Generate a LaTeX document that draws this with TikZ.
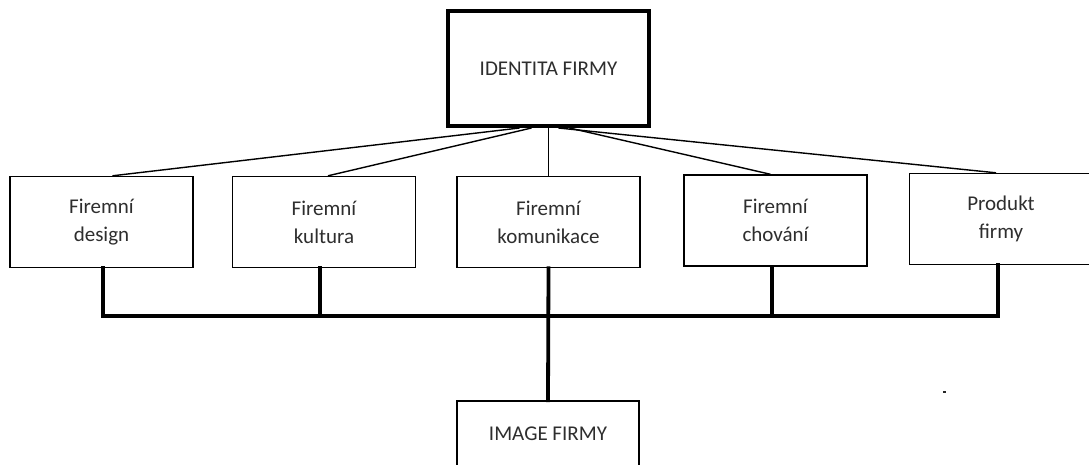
\documentclass[tikz,border=0pt]{standalone}
\usepackage{fontspec}
\setmainfont{Carlito}
\usetikzlibrary{calc}
\begin{document}
\begin{tikzpicture}[x=1pt,y=-1pt,
  txt/.style={text=black!82,font=\fontsize{21}{28}\selectfont,align=center},
  boxa/.style={draw,line width=1.4pt,txt,minimum width=183pt,minimum height=91pt,inner sep=0pt},
  boxtop/.style={draw,line width=4pt,txt,minimum width=201pt,minimum height=115pt,inner sep=0pt},
  thin/.style={line width=1.4pt},
  bus/.style={line width=3.8pt,line join=miter,line cap=rect}]
\clip (0,0) rectangle (1089,465);
\fill[white] (0,0) rectangle (1089,465);
\node[boxtop] (top) at (548.5,68.5) {IDENTITA FIRMY};
\node[boxa] (design) at (101.5,222) {Firemní\\design};
\node[boxa] (kultura) at (324,222) {Firemní\\kultura};
\node[boxa] (komunikace) at (548.5,222) {Firemní\\komunikace};
\node[boxa] (chovani) at (775.5,220.5) {Firemní\\chování};
\node[boxa] (produkt) at (1001,219) {Produkt\\firmy};
\node[boxa,minimum width=182pt,minimum height=66pt] (image) at (548,434) {IMAGE FIRMY};
\coordinate (bus) at (548.5,316);
% upper connectors
\draw[thin] ($(top.south)+(-29,0)$) -- ($(design.north)+(11,0)$);
\draw[thin] ($(top.south)+(-17,0)$) -- ($(kultura.north)+(4,0)$);
\draw[thin] (top.south) -- (komunikace.north);
\draw[thin] ($(top.south)+(21,0)$) -- ($(chovani.north)+(-5,0)$);
\draw[thin] ($(top.south)+(10,0)$) -- ($(produkt.north)+(-5,0)$);
% lower bus
\draw[bus] ($(design.south)+(1.5,0)$) |- ($(produkt.south |- bus)+(-3,0)$) -- ($(produkt.south)+(-3,0)$);
\draw[bus] ($(kultura.south)+(-4,0)$) -- ($(kultura.south |- bus)+(-4,0)$);
\draw[bus] ($(chovani.south)+(-3.5,0)$) -- ($(chovani.south |- bus)+(-3.5,0)$);
\draw[bus] (komunikace.south) -- (image.north);
\fill[black!85] (943,391) rectangle (945.5,393);
\end{tikzpicture}
\end{document}
